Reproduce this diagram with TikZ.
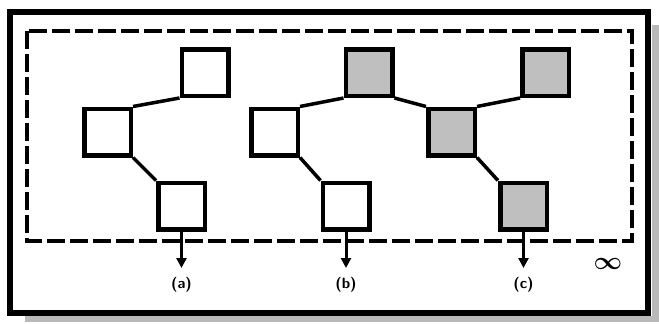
\documentclass[tikz,border=0pt]{standalone}
\usepackage{amsmath}
\usepackage{tikz}
\usetikzlibrary{arrows.meta}

\tikzset{
  blk/.style={draw, line width=4.5pt, minimum size=46.5pt, inner sep=0pt, fill=white},
  hot/.style={blk, fill=gray!50},
  link/.style={line width=3.5pt},
  outarrow/.style={-{Triangle[length=10pt, width=10pt]}, line width=3pt},
  tag/.style={font=\sffamily\bfseries\fontsize{15}{17}\selectfont}
}

\begin{document}
\begin{tikzpicture}[x=1pt, y=-1pt]
\useasboundingbox (0,0) rectangle (659,324);
% Shadow and frame
\fill[gray!55] (652,25) rectangle (659,322);
\fill[gray!55] (25,316) rectangle (659,322);
\draw[line width=5.5pt, fill=white] (10,12) rectangle (648,313);
\draw[line width=3.5pt, dash pattern=on 18pt off 5pt] (27,31) rectangle (632,241);
% Tree a
\node[blk] (a1) at (205,72.5) {};
\node[blk] (a2) at (107.5,132) {};
\node[blk] (a3) at (181.5,206) {};
\draw[link] (a2.north east) -- (a1.south west);
\draw[link] (a2.south east) -- (a3.north west);
% Tree b
\node[hot] (b1) at (369,72.5) {};
\node[blk] (b2) at (274.5,132) {};
\node[blk] (b3) at (346,206) {};
\draw[link] (b2.north east) -- (b1.south west);
\draw[link] (b2.south east) -- (b3.north west);
% Tree c
\node[hot] (c1) at (545.5,72.5) {};
\node[hot] (c2) at (451.5,132) {};
\node[hot] (c3) at (523.5,206) {};
\draw[link] (b1.south east) -- (c2.north west);
\draw[link] (c2.north east) -- (c1.south west);
\draw[link] (c2.south east) -- (c3.north west);
% Outputs
\coordinate (ea) at (181.5,268);
\coordinate (eb) at (346,268);
\coordinate (ec) at (523.5,268);
\draw[outarrow] (a3.south) -- (ea);
\draw[outarrow] (b3.south) -- (eb);
\draw[outarrow] (c3.south) -- (ec);
\node[tag] (la) at (181.5,285) {(a)};
\node[tag] (lb) at (346,285) {(b)};
\node[tag] (lc) at (523.5,285) {(c)};
\node[font=\fontsize{30}{30}\selectfont\boldmath] (inf) at (608,264) {$\infty$};
\end{tikzpicture}
\end{document}
